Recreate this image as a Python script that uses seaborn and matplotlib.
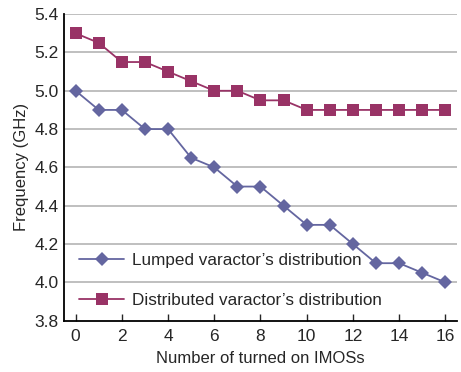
import matplotlib
matplotlib.use("Agg")
import matplotlib.pyplot as plt
import seaborn as sns
import pandas as pd

n_on = list(range(17))
lumped = [5.0, 4.9, 4.9, 4.8, 4.8, 4.65, 4.6, 4.5, 4.5, 4.4, 4.3, 4.3, 4.2, 4.1, 4.1, 4.05, 4.0]
distributed = [5.3, 5.25, 5.15, 5.15, 5.1, 5.05, 5.0, 5.0, 4.95, 4.95, 4.9, 4.9, 4.9, 4.9, 4.9, 4.9, 4.9]
x_ticks = [0, 2, 4, 6, 8, 10, 12, 14, 16]
y_ticks = [3.8, 4.0, 4.2, 4.4, 4.6, 4.8, 5.0, 5.2, 5.4]

sns.set_style("white")
plt.rcParams['font.family'] = ['Liberation Sans', 'DejaVu Sans']

df = pd.DataFrame({"n": n_on, "lumped": lumped, "distributed": distributed})

fig = plt.figure(figsize=(4.61, 3.72), dpi=100)
ax = fig.add_axes([0.139, 0.138, 0.852, 0.824])

for yv in y_ticks[1:]:
    ax.axhline(yv, color='#b4b4b4', lw=1.2, zorder=0)

sns.lineplot(data=df, x="n", y="lumped", ax=ax, color='#6466a0', marker='D',
             markersize=7.5, markeredgewidth=0, lw=1.3,
             label="Lumped varactor\u2019s distribution")
sns.lineplot(data=df, x="n", y="distributed", ax=ax, color='#993366', marker='s',
             markersize=9, markeredgewidth=0, lw=1.3,
             label="Distributed varactor\u2019s distribution")

ax.set_xlim(-0.5, 16.5)
ax.set_ylim(3.8, 5.4)
ax.set_xticks(x_ticks)
ax.set_yticks(y_ticks)
ax.set_yticklabels([f"{v:.1f}" for v in y_ticks])
ax.tick_params(axis='x', direction='in', length=5, width=1, labelsize=12.5, pad=6)
ax.tick_params(axis='y', direction='out', length=0, labelsize=12.5, pad=4)
ax.tick_params(bottom=True)

for s in ['top', 'right']:
    ax.spines[s].set_visible(False)
for s in ['left', 'bottom']:
    ax.spines[s].set_color('black')
    ax.spines[s].set_linewidth(1.3)

ax.set_xlabel("Number of turned on IMOSs", fontsize=12, labelpad=5)
ax.set_ylabel("Frequency (GHz)", fontsize=12, labelpad=4)

ax.legend(loc='lower left', bbox_to_anchor=(0.0, -0.01), frameon=False, fontsize=12.3,
          labelspacing=1.5, handlelength=2.6, handletextpad=0.45)

fig.savefig("out.png", dpi=100)
